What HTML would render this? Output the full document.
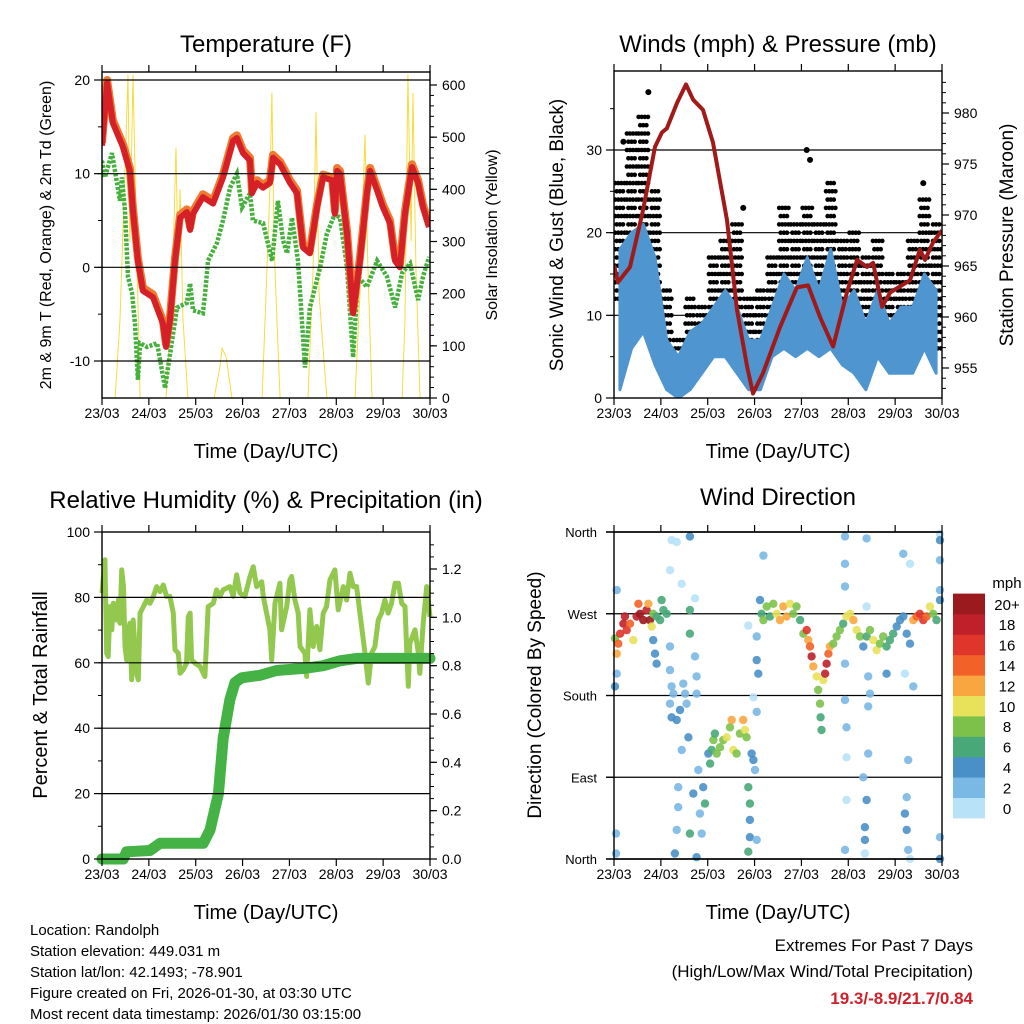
<!DOCTYPE html>
<html><head><meta charset="utf-8">
<style>
body{margin:0;background:#fff;}
svg{display:block;font-family:"Liberation Sans",sans-serif;}
</style></head>
<body>
<svg id="root" width="1024" height="1024" viewBox="0 0 1024 1024" xmlns="http://www.w3.org/2000/svg">
<rect x="0" y="0" width="1024" height="1024" fill="#fff"/>
<g id="layer"></g>
</svg>
<script>
// ---------- DATA ----------
const dayLabels = ["23/03","24/03","25/03","26/03","27/03","28/03","29/03","30/03"];
const tempHours = [0,2.6,5.6,10.8,14.3,15.9,18.4,21,26.1,31.2,32.8,34.8,37.4,40,43.5,45.1,46.6,51.7,56.9,62,67.1,69.1,72.2,75.8,76.8,79.4,82.5,86,87.6,91.2,96.3,99.9,103,106.5,110.1,113.2,117.8,119.3,120.4,121.9,125.5,128.6,132.1,135.7,137.3,140.9,143.9,147.5,150.1,152.6,155.2,158.8,161.9,164.4,167.5];
const tempValues = [13,19.7,15.4,12.8,10.3,6,0.7,-2.5,-3.2,-6,-8.5,-5.7,0.7,5.3,5.9,4,5.7,7.5,6.8,9.6,13.5,13.8,12.2,11.4,7.9,9,8.5,9,11.7,11,9,7.9,2.1,1.5,6.4,9.6,9.3,5.7,10.3,10,3.6,-4.9,0.7,7.9,10.3,8.2,6.4,4.7,0.7,0,5.7,10.7,9,6.4,4.3];
const dewHours = [0,1.5,5.1,9.2,10.2,11.8,13.3,15.4,16.9,18.4,19.5,23,28.2,32.3,33.8,38.4,43.5,45.1,46.6,51.7,52.8,54.3,58.9,62,65.6,69.1,71.7,75.8,77.3,82.5,87.1,90.1,92.7,94.8,97.3,100.4,104,106.5,111.7,115.2,119.3,121.9,125.5,128.6,131.1,135.7,140.9,146,150.1,153.7,157.8,161.9,164.4,167.5];
const dewValues = [11.4,9.6,12.2,7.1,9.6,6,-1,-2.8,-6,-12,-8.1,-8.5,-8.1,-12.9,-10.7,-4.3,-3.8,-1.7,-4.6,-4.9,-2.8,0.7,2.6,5,8.5,10,6.4,7.9,5,4.7,0.7,7.1,2.9,1.5,5.3,0.7,-10.7,-4.3,0,3.6,5.7,5.3,0,-9.6,-1,-2.1,0.7,-1,-4.3,-0.6,0.4,-3.5,-1,1.1];
const solarHours = [0,6.7,9.2,12.3,13.3,14.3,15.9,17.4,19.5,32.8,35.9,37.9,39,40,41.5,44,57.4,60.4,61.5,63.5,66.6,82,84.5,86,87,88.1,89.6,91.2,105.5,108.1,109.6,111.2,112.7,115.2,129.6,132.1,134.7,136.2,138.3,153.7,155.2,156.7,158.3,159.3,160.8,162.9,168];
const solarValues = [0,0,150,500,620,300,620,350,0,0,200,480,250,400,150,0,0,60,95,80,0,0,250,400,585,300,150,0,0,250,548,200,120,0,0,200,505,250,0,0,150,620,300,585,250,0,0];
const blueLo = [1,6,8,4,1,0,1,3,5,5,3,1,1,5,6,5,6,5,6,4,3,1,5,3,3,3,6,3];
const blueHi = [18,20,21,17,7,5,8,9,11,13,11,7,7,11,15,13,17,13,18,11,13,9,13,9,11,11,15,13];
const gustLo = [12,16,18,6,4,3,5,6,9,11,11,4,4,9,13,11,13,9,15,9,10,6,9,6,6,9,14,6];
const gustHi = [26,32,34,25,13,7,12,11,17,19,21,12,13,17,23,21,23,21,26,19,20,17,19,15,15,19,24,21];
const gustOutHours = [17.6,4.8,98.7,100.4,158.4,66.2];
const gustOutValues = [37,31,30,28.8,26,23];
const presHours = [0,2,8.2,14.9,21,24.6,27.1,32.3,36.9,40.5,45.6,50.7,57.9,63,68.2,71.2,76.3,85,93.7,99.4,105.5,112.2,119.3,124.5,129.6,132.7,137.3,141.4,151.6,156.7,159.3,163.4,168];
const presValues = [965.1,963.4,964.9,970.5,976.7,978.1,978.5,981,982.8,981.3,980.3,977.1,969.5,960.7,955.1,952.5,954.5,959,962.9,963.1,960,957.1,962.4,965.6,964.9,965.3,961,962.4,963.6,966.6,965.6,967.3,968.5];
const rhHours = [0,1.5,2.4,3.2,4.1,5,5.8,7.5,8.4,9.2,10.1,11,11.8,12.6,13.5,14.3,15.2,16,17.7,18.6,19.5,21.2,22.9,24.6,26.3,28,29.7,31.4,33.1,34.8,36.5,37.4,39.1,40,41.6,43.3,44.2,45.1,45.9,47.6,50.2,52.7,54.4,57,58.7,60.4,62.1,65.5,67.2,69,70.7,73.2,75.8,77.5,79.2,81.8,82.6,84.3,86,86.9,88.6,91.1,92,94.6,96.3,97.1,98.8,100.5,101.4,103.9,104.8,106.5,108.2,109.9,111.6,113.3,115,116.8,119.3,121,123.6,125.3,127,128.7,130.4,132.1,134.7,136.4,138.1,139.8,141.5,143.2,144.9,146.6,148.3,150.1,151.8,153.5,155.2,156,156.9,157.7,160.3,162,162.8,164.5,166.3,168];
const rhValues = [81.3,91.5,62.9,61.9,77.2,70.1,78.2,73.1,79.2,72.1,88.4,83.3,65,60.9,70.1,72.1,54.8,73.1,56.8,54.8,75.2,77.2,79.2,78.2,80.3,83.3,81.8,83.8,80.3,80.3,75.2,64,62.9,56.8,57.9,59.9,74.1,75.2,60.9,59.9,58.9,55.8,77.2,78.2,82.3,80.3,82.3,83.3,80.3,86.9,81.3,80.3,86.4,89.4,83.3,84.8,80.3,75.2,70.1,60.9,78.2,84.3,70.1,77.2,85.4,86.4,79.2,75.2,65,62.9,55.8,76.2,65,71.1,64,75.2,77.2,85.4,88.4,76.2,83.3,79.2,87.4,83.3,83.3,75.2,62.9,53.8,62.9,65,73.1,75.2,79.2,75.2,78.2,84.3,84.3,78.2,77.2,65,52.8,66,70.1,62.9,56.8,72.1,83.3,74.1];
const precipHours = [0,10.9,12.6,24.6,29.7,51.9,55.3,59.6,62.1,65.5,68.1,71.5,80.9,89.4,104.8,113.3,121.9,130.4,168];
const precipValues = [0,0,0.03,0.035,0.065,0.065,0.12,0.27,0.5,0.66,0.73,0.75,0.76,0.78,0.79,0.8,0.82,0.83,0.83];
const dirHours = [0.5,1.4,2.2,3.1,4.8,5.6,6.5,8.2,9.9,11.6,12.5,13.3,15,16.7,17.6,18.4,19.3,20.1,21.8,23.6,24.4,25.3,27,20.1,21,21.8,0.5,1.4,1.4,1,1,28.7,28.7,29.5,28.7,29.5,30.4,32.1,33.8,35.5,36.4,37.2,38.1,34.7,32.9,32.9,32.1,31.2,29.5,32.1,38.9,28.7,34.7,41.5,38.9,38.9,41.5,42.3,42.3,43.2,40.6,44,44.9,42.3,38.9,46.6,45.7,48.3,49.2,50,50.9,51.7,52.6,54.3,56,57.7,59.4,60.3,61.1,62.8,64.5,66.2,67.1,67.9,70.5,71.4,72.2,68.8,69.6,69.6,69.6,68.8,73.1,71.4,73.1,73.9,73.1,68.8,73.1,76.5,74.8,75.6,76.5,78.2,79.9,81.6,83.3,85,86.7,88.4,90.1,91.8,93.5,95.3,97,98.7,99.5,100.4,101.2,102.1,103.8,104.6,105.5,105.8,106.3,107.2,108.1,108.9,109.8,110.6,112.3,114,115.7,117.4,119.1,120.9,122.6,124.3,126,127.7,129.4,131.1,132.8,134.5,136.2,137.9,139.6,141.3,143,144.8,146.5,148.2,149.9,151.6,153.3,155,156.7,158.4,160.1,161.8,163.5,165.2,167,118.3,118.3,118.3,118.3,119.1,119.1,119.1,118.3,118.3,129.4,129.4,130.2,131.1,130.2,130.2,129.4,128.5,128.5,128.5,127.7,139.6,148.2,151.6,149,153.3,150.7,149.9,149,149.9,150.7,151.6,167,167,167,167,167,167];
const dirDeg = [243,226,237,248,259,267,252,259,241,267,281,270,263,274,281,263,256,270,267,263,285,274,270,241,226,215,190,204,296,28,6,234,208,190,171,156,182,153,164,193,182,171,134,120,79,57,32,6,351,349,355,318,303,287,274,248,223,201,182,98,72,50,28,2,28,61,79,116,105,120,131,138,116,123,131,134,145,153,120,116,138,153,142,134,116,109,98,79,61,43,24,8,21,178,162,204,219,257,245,334,285,270,263,278,267,281,270,263,278,267,281,270,278,263,248,252,241,234,223,212,201,186,171,156,142,197,204,215,226,234,237,245,252,259,267,270,263,252,245,234,245,252,241,230,237,245,234,241,248,256,263,267,248,237,263,267,270,263,267,278,270,263,285,355,325,300,175,145,112,65,10,215,353,278,201,182,168,116,65,35,21,6,90,204,336,325,204,190,109,68,50,32,10,0,358,351,329,296,24,0];
const dirSpeed = [8,12,14,16,18,18,16,14,10,18,14,20,20,18,12,20,10,8,6,6,6,6,6,4,4,4,4,2,2,2,2,2,2,2,2,4,2,4,4,2,2,2,4,2,2,2,2,4,0,0,4,0,0,0,6,6,2,2,2,2,4,2,2,4,6,6,4,4,6,6,8,6,8,8,8,10,8,12,10,8,8,12,10,8,4,4,2,6,6,4,4,6,2,0,2,4,4,0,2,2,4,6,8,8,6,8,10,12,12,12,10,8,8,6,8,16,12,14,18,12,10,8,8,6,6,10,18,18,14,12,8,8,8,6,10,10,12,10,8,4,6,8,10,10,8,8,6,6,6,4,4,4,4,4,12,14,16,16,14,10,8,6,4,2,2,2,2,2,0,0,2,2,2,0,2,2,2,2,4,4,4,0,2,4,2,0,0,2,2,2,4,4,2,0,0,4,2,2,2,4];
const speedColors = ["#b8e2f8","#7ab8e6","#4a90c8","#48a878","#7cc24a","#e8e15a","#f9a640","#f26228","#e0352a","#c0202a","#9a1a1e"];
const speedLabels = ["0","2","4","6","8","10","12","14","16","18","20+"];

// ---------- HELPERS ----------
const NS="http://www.w3.org/2000/svg";
const layer=document.getElementById('layer');
function mk(tag,attrs,parent){const e=document.createElementNS(NS,tag);for(const k in attrs)e.setAttribute(k,attrs[k]);(parent||layer).appendChild(e);return e;}
function txt(s,x,y,size,anchor,parent,extra){const t=mk('text',Object.assign({x:x,y:y,'font-size':size,'text-anchor':anchor||'middle',fill:'#000'},extra||{}),parent);t.textContent=s;return t;}
function makeX(x0,x1){return h=>x0+h/168*(x1-x0);}
function makeY(v0,v1,y0,y1){return v=>y0+(v-v0)/(v1-v0)*(y1-y0);}
function pts(hs,vs,X,Y){return hs.map((h,i)=>X(h).toFixed(1)+','+Y(vs[i]).toFixed(1)).join(' ');}

function panelFrame(g,x0,x1,yT,yB){
  for(let d=0;d<=7;d++){const x=x0+d*(x1-x0)/7;
    mk('line',{x1:x,y1:yT,x2:x,y2:yT-7,stroke:'#000','stroke-width':1.2},g);
    mk('line',{x1:x,y1:yB,x2:x,y2:yB+7,stroke:'#000','stroke-width':1.2},g);
    const t=txt(dayLabels[d],x,yB+20,14,'middle',g);
    
    
  }
  mk('rect',{x:x0,y:yT,width:x1-x0,height:yB-yT,fill:'none',stroke:'#000','stroke-width':1.4},g);
}
function leftTicks(g,x0,Y,vals,labels,minor,grid,x1){
  minor.forEach(v=>mk('line',{x1:x0,y1:Y(v),x2:x0-4,y2:Y(v),stroke:'#000','stroke-width':1},g));
  vals.forEach((v,i)=>{const y=Y(v);
    mk('line',{x1:x0,y1:y,x2:x0-8,y2:y,stroke:'#000','stroke-width':1.2},g);
    if(grid[i])mk('line',{x1:x0,y1:y,x2:x1,y2:y,stroke:'#000','stroke-width':1.2},g);
    const t=txt(labels[i],x0-12,y+5,14,'end',g);
    
    
  });
}
function rightTicks(g,x1,Y,vals,labels,minor){
  minor.forEach(v=>mk('line',{x1:x1,y1:Y(v),x2:x1+4,y2:Y(v),stroke:'#000','stroke-width':1},g));
  vals.forEach((v,i)=>{const y=Y(v);
    mk('line',{x1:x1,y1:y,x2:x1+7,y2:y,stroke:'#000','stroke-width':1.2},g);
    const t=txt(labels[i],x1+12,y+5,14,'start',g);
    
    
  });
}
function range(a,b,s){const r=[];for(let v=a;v<=b+1e-9;v+=s)r.push(+v.toFixed(4));return r;}

// ---------- PANEL 1 ----------
(function(){
  const g=mk('g',{});
  
  
  const x0=102,x1=430,yT=72,yB=398;
  const X=makeX(x0,x1), Y=makeY(20,-10,80,361), YS=makeY(0,600,398,85);
  const clip=mk('clipPath',{id:'c1'},g); mk('rect',{x:x0,y:yT,width:x1-x0,height:yB-yT},clip);
  const pg=mk('g',{'clip-path':'url(#c1)'},g);
  const s=mk('polyline',{points:pts(solarHours,solarValues,X,YS),fill:'none',stroke:'#f6dc3c','stroke-width':1},pg);
  
  
  const d=mk('polyline',{points:pts(dewHours,dewValues,X,Y),fill:'none',stroke:'#45b03c','stroke-width':4.5,'stroke-dasharray':'3,1.5'},pg);
  
  
  const o=mk('polyline',{points:pts(tempHours,tempValues.map(v=>v+0.3),X,Y),fill:'none',stroke:'#f07a30','stroke-width':8,'stroke-linejoin':'round'},pg);
  
  
  const r=mk('polyline',{points:pts(tempHours,tempValues,X,Y),fill:'none',stroke:'#d42026','stroke-width':6,'stroke-linejoin':'round'},pg);
  
  
  leftTicks(g,x0,Y,[20,10,0,-10],["20","10","0","-10"],range(-10,20,5),[1,1,1,1],x1);
  rightTicks(g,x1,YS,range(0,600,100),range(0,600,100).map(String),range(0,600,20));
  panelFrame(g,x0,x1,yT,yB);
  const t=txt('Temperature (F)',266,52,24,'middle',g);  
  const a=txt('Time (Day/UTC)',266,458,20,'middle',g);  
  const l=txt('2m & 9m T (Red, Orange) & 2m Td (Green)',0,0,16,'middle',g,{transform:'translate(51,235) rotate(-90)'});  
  const rr=txt('Solar Insolation (Yellow)',0,0,16,'middle',g,{transform:'translate(497,235) rotate(-90)'});  
})();

// ---------- PANEL 2 ----------
(function(){
  const g=mk('g',{});
  
  
  const x0=614,x1=942,yT=71,yB=398;
  const X=makeX(x0,x1), Y=makeY(0,30,398,150), YP=makeY(955,980,368,113);
  const clip=mk('clipPath',{id:'c2'},g); mk('rect',{x:x0,y:yT,width:x1-x0,height:yB-yT},clip);
  const pg=mk('g',{'clip-path':'url(#c2)'},g);
  [10,20,30].forEach(v=>mk('line',{x1:x0,y1:Y(v),x2:x1,y2:Y(v),stroke:'#000','stroke-width':1.2},pg));
  const bw=6;
  gustLo.forEach((lo,i)=>{
    const hc=i*bw+bw/2;
    let row=0;
    for(let v=lo;v<=gustHi[i];v+=1.0){
      const offs=row%2===0?[-2.4,-0.8,0.8,2.4]:[-1.6,0,1.6];
      offs.forEach(off=>{
        const c=mk('circle',{cx:X(hc+off).toFixed(1),cy:Y(v).toFixed(1),r:2.3,fill:'#000'},pg);
        
        
      });
      row++;
    }
  });
  gustOutHours.forEach((h,i)=>{
    const c=mk('circle',{cx:X(h),cy:Y(gustOutValues[i]),r:3,fill:'#000'},pg);
    
    
  });
  const top=blueHi.map((v,i)=>X(i*bw+bw/2).toFixed(1)+','+Y(v).toFixed(1));
  const bot=blueLo.map((v,i)=>X(i*bw+bw/2).toFixed(1)+','+Y(v).toFixed(1)).reverse();
  const b=mk('polygon',{points:top.concat(bot).join(' '),fill:'#4f95d0',stroke:'#4f95d0','stroke-width':3,'stroke-linejoin':'round'},pg);
  
  
  const p=mk('polyline',{points:pts(presHours,presValues,X,YP),fill:'none',stroke:'#a11a1a','stroke-width':4,'stroke-linejoin':'round'},pg);
  
  
  leftTicks(g,x0,Y,[0,10,20,30],["0","10","20","30"],range(0,35,5),[0,0,0,0],x1);
  rightTicks(g,x1,YP,range(955,980,5),range(955,980,5).map(String),range(953,983,1));
  panelFrame(g,x0,x1,yT,yB);
  const t=txt('Winds (mph) & Pressure (mb)',778,52,24,'middle',g);  
  const a=txt('Time (Day/UTC)',778,458,20,'middle',g);  
  const l=txt('Sonic Wind & Gust (Blue, Black)',0,0,19,'middle',g,{transform:'translate(563,235) rotate(-90)'});  
  const rr=txt('Station Pressure (Maroon)',0,0,19,'middle',g,{transform:'translate(1013,235) rotate(-90)'});  
})();

// ---------- PANEL 3 ----------
(function(){
  const g=mk('g',{});
  
  
  const x0=102,x1=430,yT=532,yB=859;
  const X=makeX(x0,x1), Y=makeY(0,100,859,532), YR=makeY(0,1.2,859,569);
  const clip=mk('clipPath',{id:'c3'},g); mk('rect',{x:x0-6,y:yT,width:x1-x0+12,height:yB-yT+6},clip);
  const pg=mk('g',{'clip-path':'url(#c3)'},g);
  [20,40,60,80].forEach(v=>mk('line',{x1:x0,y1:Y(v),x2:x1,y2:Y(v),stroke:'#000','stroke-width':1.2},g));
  const rh=mk('polyline',{points:pts(rhHours,rhValues,X,Y),fill:'none',stroke:'#92c84e','stroke-width':5,'stroke-linejoin':'round'},pg);
  
  
  const pr=mk('polyline',{points:pts(precipHours,precipValues,X,YR),fill:'none',stroke:'#45b245','stroke-width':11,'stroke-linejoin':'round','stroke-linecap':'round'},pg);
  
  
  leftTicks(g,x0,Y,[0,20,40,60,80,100],["0","20","40","60","80","100"],range(0,100,10),[0,0,0,0,0,0],x1);
  rightTicks(g,x1,YR,range(0,1.2,0.2),["0.0","0.2","0.4","0.6","0.8","1.0","1.2"],range(0,1.3,0.05));
  panelFrame(g,x0,x1,yT,yB);
  const t=txt('Relative Humidity (%) & Precipitation (in)',266,508,24,'middle',g);  
  const a=txt('Time (Day/UTC)',266,919,20,'middle',g);  
  const l=txt('Percent & Total Rainfall',0,0,20,'middle',g,{transform:'translate(47,695) rotate(-90)'});  
})();

// ---------- PANEL 4 ----------
(function(){
  const g=mk('g',{});
  
  
  const x0=614,x1=942,yT=532,yB=859;
  const X=makeX(x0,x1), Y=makeY(0,360,859,532);
  [90,180,270].forEach(v=>mk('line',{x1:x0-8,y1:Y(v),x2:x1,y2:Y(v),stroke:'#000','stroke-width':1.2},g));
  const clip=mk('clipPath',{id:'c4'},g); mk('rect',{x:x0-4,y:yT-4,width:x1-x0+8,height:yB-yT+8},clip);
  const pg=mk('g',{'clip-path':'url(#c4)'},g);
  dirHours.forEach((h,i)=>{
    const idx=Math.min(10,Math.round(dirSpeed[i]/2));
    const c=mk('circle',{cx:X(h).toFixed(1),cy:Y(dirDeg[i]).toFixed(1),r:4.2,fill:speedColors[idx],'fill-opacity':0.9},pg);
    
    
  });
  const dl=["North","East","South","West","North"];
  [0,90,180,270,360].forEach((v,i)=>{
    mk('line',{x1:x0,y1:Y(v),x2:x0-8,y2:Y(v),stroke:'#000','stroke-width':1.2},g);
    const t=txt(dl[i],x0-17,Y(v)+5,13,'end',g);
    
    
  });
  panelFrame(g,x0,x1,yT,yB);
  mk('line',{x1:x0-8,y1:yT,x2:x1,y2:yT,stroke:'#000','stroke-width':1.4},g);
  mk('line',{x1:x0-8,y1:yB,x2:x1,y2:yB,stroke:'#000','stroke-width':1.4},g);
  const t=txt('Wind Direction',778,505,24,'middle',g);  
  const a=txt('Time (Day/UTC)',778,919,20,'middle',g);  
  const l=txt('Direction (Colored By Speed)',0,0,19,'middle',g,{transform:'translate(541,695) rotate(-90)'});  
  const cb=mk('g',{},g);
  
  
  const bh=20.4;
  speedColors.forEach((c,i)=>{
    const y=818-(i+1)*bh;
    const r=mk('rect',{x:953,y:y.toFixed(1),width:32,height:(bh+0.4).toFixed(1),fill:c},cb);
    
    
    const tl=txt(speedLabels[i],1007,y+bh/2+6,15,'middle',cb);
    
    
  });
  const u=txt('mph',1007,588,15,'middle',cb);  
})();

// ---------- Footer ----------
(function(){
  const g=mk('g',{});
  
  
  const lines=["Location: Randolph","Station elevation: 449.031 m","Station lat/lon: 42.1493; -78.901","Figure created on Fri, 2026-01-30, at 03:30 UTC","Most recent data timestamp: 2026/01/30 03:15:00"];
  lines.forEach((s,i)=>{const t=txt(s,30,935+i*21,15,'start',g);
    
    });
  const e=mk('g',{});
  
  
  const t1=txt('Extremes For Past 7 Days',973,951,17,'end',e);  
  const t2=txt('(High/Low/Max Wind/Total Precipitation)',973,977,17,'end',e);  
  const t3=txt('19.3/-8.9/21.7/0.84',973,1004,17,'end',e,{fill:'#d0202a','font-weight':'bold'});  
})();
</script>
</body></html>
